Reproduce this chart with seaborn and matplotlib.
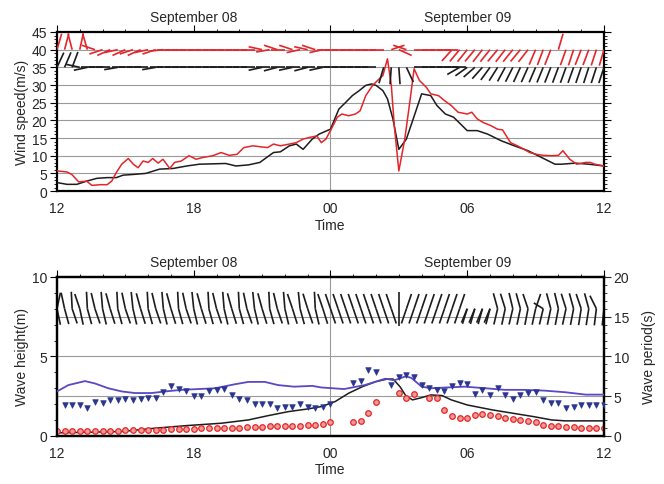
import numpy as np
import matplotlib
matplotlib.use("Agg")
import matplotlib.pyplot as plt
import seaborn as sns
from matplotlib.collections import LineCollection
from matplotlib.ticker import MultipleLocator

nan = np.nan

# hours since 12:00 on September 08
hour_ticks = [0, 6, 12, 18, 24]
hour_labels = ["12", "18", "00", "06", "12"]
day_labels = ["September 08", "September 09"]
day_centers = [6, 18]

# wind speed (m/s): observed (red) and model (black)
obs_wind_hours = [0, 0.44, 0.65, 0.95, 1.3, 1.53, 1.9, 2.2, 2.4, 2.6, 2.84, 3.13, 3.35, 3.56,
                  3.78, 4.0, 4.2, 4.44, 4.65, 4.95, 5.16, 5.45, 5.8, 6.1, 6.4, 6.84, 7.2, 7.56,
                  7.9, 8.2, 8.6, 8.95, 9.24, 9.5, 9.8, 10.2, 10.5, 10.8, 11.1, 11.4, 11.6, 11.8,
                  12.0, 12.3, 12.5, 12.8, 13.1, 13.3, 13.55, 13.85, 14.07, 14.3, 14.5, 14.67,
                  14.8, 15.0, 15.26, 15.5, 15.67, 15.9, 16.2, 16.4, 16.74, 17.0, 17.3, 17.6,
                  18.0, 18.2, 18.44, 18.7, 19.04, 19.33, 19.55, 19.9, 20.2, 20.5, 20.74, 21.04,
                  21.33, 21.7, 22.0, 22.2, 22.5, 22.8, 23.2, 23.4, 23.6, 24.0]
obs_wind_speed = [5.7, 5.4, 4.7, 2.6, 2.8, 1.6, 1.8, 1.8, 2.8, 5.2, 7.6, 9.2, 7.6, 6.6, 8.5,
                  8.1, 9.2, 7.9, 9.0, 6.4, 8.1, 8.5, 10.0, 9.0, 9.5, 10.0, 10.9, 10.1, 10.4,
                  12.3, 12.8, 12.5, 12.3, 13.3, 12.8, 13.3, 13.7, 14.7, 15.2, 15.6, 13.7, 14.7,
                  17.1, 20.9, 21.8, 21.3, 21.8, 22.7, 27.0, 29.9, 31.3, 32.7, 37.4, 29.9, 18.5,
                  5.7, 14.7, 26.1, 34.6, 31.3, 29.4, 27.5, 27.0, 25.6, 24.2, 22.3, 21.8, 22.3,
                  20.4, 19.4, 18.5, 17.5, 17.3, 13.7, 12.8, 11.8, 10.9, 10.4, 10.1, 10.0, 10.1,
                  11.4, 9.0, 7.6, 8.1, 8.1, 7.6, 7.1]
mod_wind_hours = [0, 0.44, 0.87, 1.3, 1.75, 2.2, 2.6, 2.9, 3.35, 3.9, 4.5, 5.1, 5.7, 6.25,
                  6.84, 7.4, 7.85, 8.4, 8.9, 9.2, 9.5, 9.8, 10.2, 10.5, 10.8, 11.2, 11.5, 11.85,
                  12.0, 12.37, 12.67, 12.96, 13.26, 13.55, 13.8, 14.0, 14.3, 14.5, 14.74, 15.0,
                  15.33, 15.63, 16.0, 16.4, 16.67, 17.04, 17.4, 18.0, 18.44, 18.9, 19.5, 20.07,
                  20.67, 21.26, 21.85, 22.15, 22.74, 23.33, 24.0]
mod_wind_speed = [2.4, 1.9, 1.9, 2.8, 3.6, 3.8, 3.8, 4.5, 4.7, 5.0, 6.2, 6.4, 7.1, 7.6, 7.7,
                  7.8, 7.1, 7.4, 8.1, 9.5, 10.9, 11.1, 12.8, 13.3, 11.8, 14.7, 16.1, 17.1, 17.5,
                  23.2, 25.1, 27.0, 28.4, 29.9, 30.3, 29.9, 28.4, 26.1, 20.4, 11.8, 14.7, 20.4,
                  27.5, 27.0, 24.2, 21.8, 20.9, 17.1, 17.1, 16.1, 14.2, 12.8, 11.4, 9.5, 7.6,
                  7.6, 7.9, 7.6, 7.1]

# stick directions (deg) every 20 minutes
wind_dir_obs = [70, 72, 108, 75, 110,
                165, 195, 200, 190, 200, 195, 200, 190, 195, 185,
                180, 180, 180, 180, 180, 180, 180, 180, 180, 180, 180, 180,
                170, 188, 165, 180, 165, 190, 170, 165, 190,
                180, 180, 180, 180, 180, 180, 180, 180,
                15, 340, 165,
                0, 0, 0, 0, 0,
                222, 224, 225, 224, 226, 225, 224, 226, 225, 224, 226,
                242, 245, 244, 70, 246, 248, 244, 245, 248, 250]
wind_dir_mod = [60, 62, 65, 170, 190,
                180, 180, 180, 188, 180, 180, 180, 180, 188, 180,
                180, 180, 180, 180, 180, 180, 180, 180, 180, 180, 180, 180,
                190, 180, 192, 180, 190, 180, 192, 180, 190,
                180, 180, 180, 180, 180, 180, 180,
                250, 265, 275, 300,
                0, 0, 0, 0, 0, 0,
                205, 210, 215, 222, 228, 232,
                236, 238, 240, 241, 242, 243, 244, 245, 246, 246, 247, 248, 248, 248]
wave_dir_up = [70, 110, 95, 120,
               95, 112, 98, 115, 95, 110, 100, 115, 95, 112, 98, 115, 95, 110, 100, 115,
               95, 112, 98, 115, 95, 110, 100, 115, 95, 112, 98, 120, 100, 118, 95, 120,
               120, 120, 120, 120, 120, 120, 120, 120, 120,
               90,
               60, 60, 60, 60, 60, 60, 60, 60,
               235, 235, 235, 235,
               115, 118, 112, 115, 120, 60, 160, 115, 112, 118, 115, 120, 115, 130, 70]
wave_dir_down = [290, 295, 300, 290,
                 295, 300, 292, 298, 295, 300, 292, 298, 295, 300, 292, 298, 295, 300, 292, 298,
                 295, 300, 292, 298, 295, 300, 292, 298, 295, 300, 292, 298, 295, 300, 292, 298,
                 300, 300, 300, 300, 300, 300, 300, 300, 300,
                 270,
                 240, 240, 240, 240, 240, 240, 240, 240,
                 242, 244, 245, 246,
                 248, 250, 248, 250, 252, 250, 248, 250, 252, 250, 252, 255, 255, 258, 260]

# wave height (m): model line and observed circles
wave_mod_hours = [0, 1.5, 2.84, 4.3, 5.76, 7.2, 8.4, 9.27, 10.15, 11.0, 11.6, 12.2, 12.8, 13.4,
                  14.0, 14.5, 14.75, 15.05, 15.3, 15.6, 16.0, 16.4, 16.9, 17.3, 18.0, 19.1,
                  20.0, 20.9, 21.7, 22.3, 24.0]
wave_mod_height = [0.2, 0.24, 0.28, 0.49, 0.66, 0.8, 1.01, 1.28, 1.53, 1.7, 1.85, 2.16, 2.69,
                   3.1, 3.42, 3.58, 3.58, 3.1, 2.54, 2.27, 2.41, 2.58, 2.54, 2.27, 1.95, 1.64,
                   1.43, 1.22, 1.01, 0.95, 0.95]
wave_obs_height = [0.30, 0.30, 0.30, 0.30, 0.30, 0.30, 0.30, 0.30, 0.30,
                   0.35, 0.35, 0.38, 0.38, 0.40, 0.40,
                   0.42, 0.45, 0.45, 0.45, 0.48, 0.48,
                   0.48, 0.50, 0.52, 0.52, 0.55, 0.55,
                   0.58, 0.62, 0.62, 0.62, 0.65, 0.65,
                   0.68, 0.70, 0.75, 0.85,
                   nan, nan, 0.90, 0.95, 1.45, 2.15, nan, nan,
                   2.73, 2.37, 2.64, nan, 2.37, 2.37, 1.64,
                   1.28, 1.16, 1.16, 1.30, 1.40, 1.30, 1.25, 1.12, 1.05, 1.01, 0.95, 0.90,
                   0.70, 0.62, 0.60, 0.55, 0.55, 0.50, 0.50, 0.48, 0.48]

# wave period (s): model line and observed triangles
period_mod_hours = [0, 0.5, 1.23, 1.67, 2.25, 2.84, 3.42, 4.15, 4.74, 5.47, 6.2, 6.93, 7.8,
                    8.4, 9.12, 9.7, 10.4, 11.2, 11.6, 12.1, 12.6, 13.5, 14.4, 14.8, 15.3,
                    15.55, 16.0, 16.4, 17.1, 17.9, 18.8, 19.65, 20.5, 21.4, 22.3, 23.2, 24.0]
period_mod = [5.6, 6.4, 6.9, 6.6, 6.0, 5.6, 5.4, 5.4, 5.6, 5.8, 5.9, 6.0, 6.5, 6.8, 6.8, 6.4,
              6.2, 6.3, 6.1, 6.0, 5.9, 6.4, 7.2, 7.0, 7.5, 7.3, 6.2, 6.0, 6.1, 6.2, 6.0, 5.8,
              5.8, 5.7, 5.5, 5.2, 5.2]
period_obs = [nan,
              3.9, 3.9, 3.9, 3.5, 4.3, 4.1, 4.5, 4.5, 4.7, 4.5,
              4.6, 4.8, 4.8, 5.5, 6.3, 5.9, 5.7, 5.0, 5.0, 5.7,
              5.8, 5.9, 5.2, 4.7, 4.5, 4.0, 4.0, 4.0, 3.5, 3.7,
              3.6, 4.0, 3.6, 3.5, 3.6, 4.0,
              nan, nan, 6.7, 6.9, 8.3, 8.1, nan, 6.4, 7.4, 7.7, 7.4, 6.4, 6.0, 5.8,
              5.6, 6.3, 6.7, 6.5, 5.3, 5.8, 5.1, 6.0, 5.2, 4.7, 5.1, 5.4, 5.5, 4.5,
              4.1, 4.1, 3.5, 3.7, 3.9, 3.9, 3.9, 3.9]

obs_hours = np.arange(73) / 3.0

RED = "#e3262b"
BLACK = "#1c1c1c"
BLUE_LINE = "#5a48c4"
BLUE_MARK = "#2a3590"
GRID = "#9a9a9a"

sns.set_theme(style="white")
plt.rcParams["font.family"] = ["Liberation Sans", "DejaVu Sans"]
plt.rcParams["font.size"] = 9.5


def draw_sticks(ax, base, dirs, lx, ly, color, lw):
    # one stick per sample, tail on the baseline, pointing along the direction
    a = np.radians(dirs)
    x0 = obs_hours
    y0 = np.full(len(a), base)
    x1 = x0 + lx * np.cos(a)
    y1 = y0 + ly * np.sin(a)
    segs = np.stack([np.column_stack([x0, y0]), np.column_stack([x1, y1])], axis=1)
    ax.add_collection(LineCollection(segs, colors=color, linewidths=lw,
                                     capstyle="butt", zorder=4))


def style_time_axis(ax):
    ax.set_xlim(0, 24)
    ax.set_xticks(hour_ticks)
    ax.set_xticklabels(hour_labels)
    ax.xaxis.set_minor_locator(MultipleLocator(1))
    ax.axvline(12, color=GRID, lw=0.8, zorder=1)
    for s in ax.spines.values():
        s.set_linewidth(1.6)
        s.set_color("black")
    ax.tick_params(axis="both", which="major", direction="out", length=5, width=0.8,
                   labelsize=10, pad=2, color="black")
    ax.tick_params(axis="both", which="minor", direction="out", length=2.5, width=0.6,
                   color="black")
    ax.tick_params(axis="x", top=True, which="both")
    ax.tick_params(axis="y", left=True, which="both")
    ax.set_xlabel("Time", fontsize=10, labelpad=2)
    for c, lab in zip(day_centers, day_labels):
        ax.annotate(lab, xy=(c, 1.0), xycoords=("data", "axes fraction"),
                    xytext=(0, 6), textcoords="offset points",
                    ha="center", va="bottom", fontsize=10)


fig = plt.figure(figsize=(6.64, 4.85), dpi=100)
ax1 = fig.add_axes([0.0858, 0.604, 0.8238, 0.328])
ax2 = fig.add_axes([0.0858, 0.099, 0.8238, 0.328])
ax2r = ax2.twinx()

# ---- wind panel
for yv in range(5, 45, 5):
    ax1.axhline(yv, color=GRID, lw=0.8, zorder=1)
sns.lineplot(x=mod_wind_hours, y=mod_wind_speed, ax=ax1, color=BLACK, lw=1.1, zorder=3)
sns.lineplot(x=obs_wind_hours, y=obs_wind_speed, ax=ax1, color=RED, lw=1.1, zorder=3)
draw_sticks(ax1, 40, wind_dir_obs, 0.6, 4.8, RED, 1.2)
draw_sticks(ax1, 35, wind_dir_mod, 0.6, 4.8, BLACK, 1.2)
ax1.set_ylim(0, 45)
ax1.set_yticks(range(0, 46, 5))
ax1.yaxis.set_minor_locator(MultipleLocator(1))
ax1.tick_params(axis="y", right=True, which="both")
ax1.set_ylabel("Wind speed(m/s)", fontsize=10, labelpad=2)
style_time_axis(ax1)

# ---- wave panel
for yv in [2.5, 5, 7.5]:
    ax2.axhline(yv, color=GRID, lw=0.8, zorder=1)
sns.lineplot(x=wave_mod_hours, y=wave_mod_height, ax=ax2, color=BLACK, lw=1.1, zorder=3)
sns.scatterplot(x=obs_hours, y=wave_obs_height, ax=ax2, marker="o", s=16,
                facecolor="#f39a92", edgecolor=RED, linewidth=0.9, zorder=3)
draw_sticks(ax2, 8.0, wave_dir_up, 0.44, 1.07, BLACK, 1.2)
draw_sticks(ax2, 8.0, wave_dir_down, 0.44, 1.07, BLACK, 1.2)
ax2.set_ylim(0, 10)
ax2.set_yticks([0, 5, 10])
ax2.yaxis.set_minor_locator(MultipleLocator(1))
ax2.set_ylabel("Wave height(m)", fontsize=10, labelpad=2)
style_time_axis(ax2)

sns.lineplot(x=period_mod_hours, y=period_mod, ax=ax2r, color=BLUE_LINE, lw=1.3, zorder=3)
sns.scatterplot(x=obs_hours, y=period_obs, ax=ax2r, marker="v", s=16,
                color=BLUE_MARK, edgecolor=BLUE_MARK, linewidth=0.5, zorder=3)
ax2r.set_ylim(0, 20)
ax2r.set_yticks([0, 5, 10, 15, 20])
ax2r.yaxis.set_minor_locator(MultipleLocator(1))
ax2r.tick_params(axis="y", which="major", direction="out", length=5, width=0.8,
                 labelsize=10, pad=2, right=True)
ax2r.tick_params(axis="y", which="minor", direction="out", length=2.5, width=0.6, right=True)
ax2r.set_ylabel("Wave period(s)", fontsize=10, labelpad=9)
for s in ax2r.spines.values():
    s.set_linewidth(1.6)
    s.set_color("black")

fig.savefig("out.png", dpi=100)
